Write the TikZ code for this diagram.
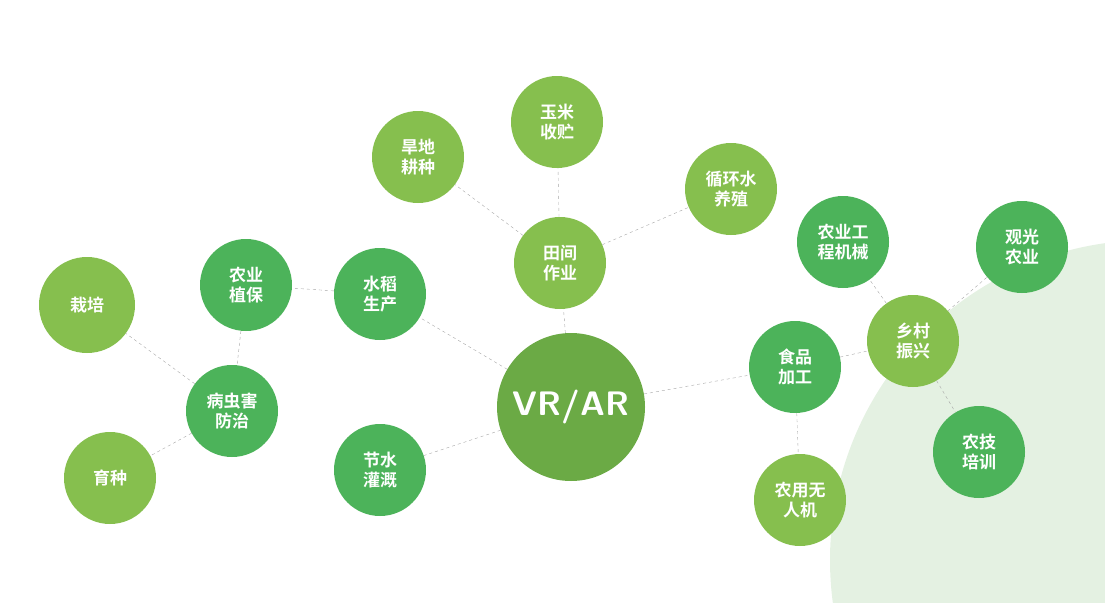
\documentclass[tikz,border=0pt]{standalone}
\usepackage{fontspec}
\newfontfamily\cjk[BoldFont={Noto Sans CJK SC Bold}]{Noto Sans CJK SC}
\usepackage{tikz}

\begin{document}
\begin{tikzpicture}[
    x = 1pt, y = -1pt, % pixel grid
    bub/.style = {circle, minimum size = 92pt, inner sep = 0pt, text = white,
        align = center, font = \cjk\bfseries\fontsize{17}{20}\selectfont},
    dk/.style = {bub, fill = darkg},
    lt/.style = {bub, fill = lightg},
    link/.style = {draw = gray!70, dashed, thin}
    ]
    \definecolor{darkg}{HTML}{4CB35A}
    \definecolor{lightg}{HTML}{86BF4E}
    \definecolor{hubg}{HTML}{6BAA45}
    \definecolor{bgg}{HTML}{E4F1E2}

    \useasboundingbox (0,0) rectangle (1105,602);
    \begin{scope}
        \clip (0,0) rectangle (1105,602);
        \fill[bgg] (1150,560) circle (320);
    \end{scope}

    % hub
    \node[bub, fill = hubg, minimum size = 148pt, font = \sffamily\bfseries\fontsize{34}{36}\selectfont] (vr) at (571,407) {VR/AR};
    \node[lt] (field) at (560,263) {田间\\作业};
    \node[lt] (corn) at (557,122) {玉米\\收贮};
    \node[lt] (dry) at (418,157) {旱地\\耕种};
    \node[lt] (fish) at (731,189) {循环水\\养殖};
    \node[dk] (rice) at (380,294) {水稻\\生产};
    \node[dk] (prot) at (246,285) {农业\\植保};
    \node[lt, minimum size = 96pt] (cult) at (87,305) {栽培};
    \node[dk] (pest) at (232,411) {病虫害\\防治};
    \node[lt] (breed) at (110,478) {育种};
    \node[dk] (water) at (380,470) {节水\\灌溉};
    \node[dk] (food) at (795,367) {食品\\加工};
    \node[dk] (mach) at (843,242) {农业工\\程机械};
    \node[lt] (rural) at (913,341) {乡村\\振兴};
    \node[dk] (tour) at (1022,247) {观光\\农业};
    \node[dk] (train) at (979,452) {农技\\培训};
    \node[lt] (drone) at (800,500) {农用无\\人机};

    \path[link] (vr) -- (field) (field) -- (corn) (field) -- (dry) (field) -- (fish);
    \path[link] (vr) -- (rice) (rice) -- (prot) (prot) -- (pest);
    \path[link] (pest) -- (cult) (pest) -- (breed) (vr) -- (water);
    \path[link] (vr) -- (food) (food) -- (drone) (food) -- (rural);
    \path[link] (rural) -- (mach) (rural) -- (tour) (rural) -- (train);
\end{tikzpicture}
\end{document}
